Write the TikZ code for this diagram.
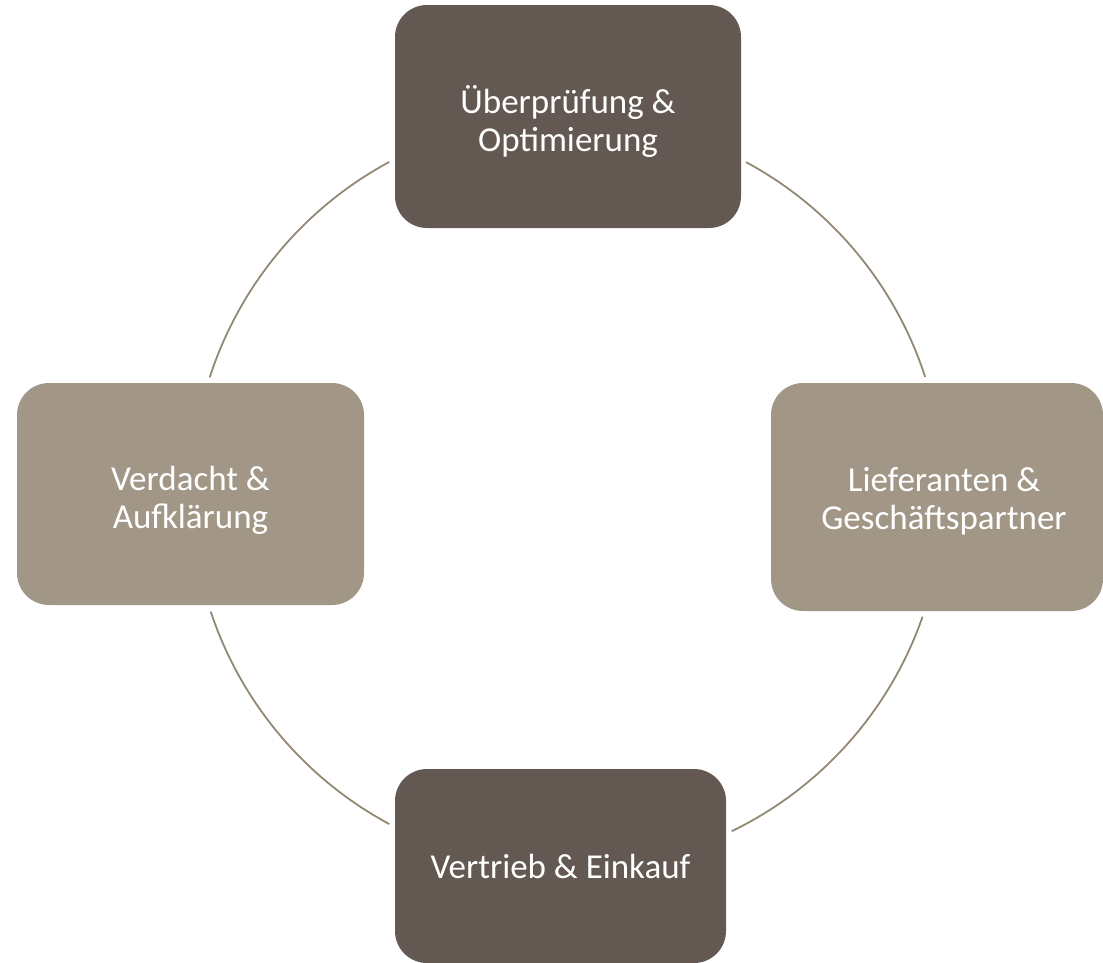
\documentclass[tikz,border=0pt]{standalone}
\usepackage{fontspec}
\setmainfont{Carlito}
\definecolor{darkbox}{HTML}{635852}
\definecolor{lightbox}{HTML}{A29787}
\definecolor{ringcol}{HTML}{948773}
\begin{document}
\begin{tikzpicture}[x=1pt,y=-1pt,
  box/.style={rectangle, rounded corners=32pt, inner sep=0pt, draw=none},
  lbl/.style={text=white, font=\fontsize{35}{38}\selectfont, align=center, inner sep=0pt},
  ring/.style={draw=ringcol, line width=1.8pt}]
\useasboundingbox (0,0) rectangle (1103,962);
% boxes
\node[box, fill=darkbox, minimum width=346pt, minimum height=223pt] (top) at (568,116.5) {};
\node[box, fill=lightbox, minimum width=347pt, minimum height=222pt] (left) at (190.5,494) {};
\node[box, fill=lightbox, minimum width=332pt, minimum height=228pt] (right) at (937,497) {};
\node[box, fill=darkbox, minimum width=331pt, minimum height=194pt] (bottom) at (560.5,866) {};
% labels
\node[lbl] (toplbl) at (568,121) {Überprüfung \&\\Optimierung};
\node[lbl] (leftlbl) at (190.5,500) {Verdacht \&\\Aufklärung};
\node[lbl] (rightlbl) at (944,501) {Lieferanten \&\\Geschäftspartner};
\node[lbl] (bottomlbl) at (560.5,866) {Vertrieb \& Einkauf};
% ring arcs
\coordinate (c) at (567.5,493);
\draw[ring] (c) ++(17.98:376pt) arc[start angle=17.98, end angle=61.66, radius=376pt];
\draw[ring] (c) ++(118.3:376pt) arc[start angle=118.3, end angle=162.1, radius=376pt];
\draw[ring] (c) ++(198.4:376pt) arc[start angle=198.4, end angle=241.7, radius=376pt];
\draw[ring] (c) ++(295.9:376pt) arc[start angle=295.9, end angle=340.8, radius=376pt];
\end{tikzpicture}
\end{document}
